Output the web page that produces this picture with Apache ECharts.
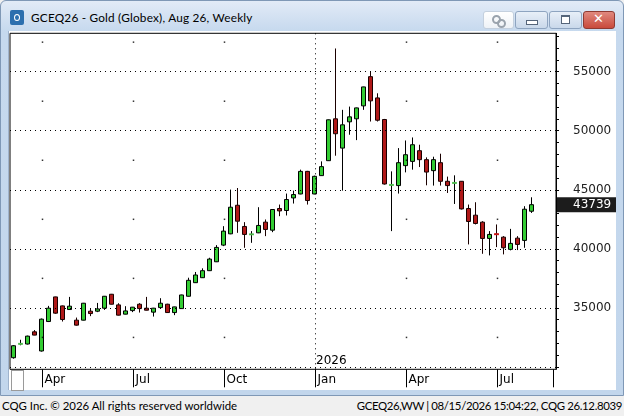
<!DOCTYPE html>
<html>
<head>
<meta charset="utf-8">
<script src="https://cdn.jsdelivr.net/npm/echarts@6/dist/echarts.min.js"></script>
<style>
    html, body { margin: 0; padding: 0; width: 624px; height: 416px; overflow: hidden; background: #f0f0f0; }
    #win { position: absolute; left: 0; top: 0; width: 622px; height: 394px; border: 1px solid #7f98b6; border-radius: 6px 6px 0 0;
        background: linear-gradient(#e2ebf7 0px, #d3e1f2 16px, #c6d9ee 30px, #c2d6ec 100%); }
    #icon { position: absolute; left: 9px; top: 9px; width: 14px; height: 15px; background: #2c6fae; border-radius: 2px; }
    #icon:after { content: ""; position: absolute; left: 4px; top: 4px; width: 4px; height: 5px; border: 1.5px solid #fff; border-radius: 50%; }
    #title { position: absolute; left: 30px; top: 9px; font: 11.8px Lato, sans-serif; letter-spacing: 0.2px; color: #000; white-space: nowrap; }
    .btn { position: absolute; top: 10px; height: 16px; border: 1px solid #8ea4c0; border-radius: 3px;
        background: linear-gradient(#e8eff8, #c9d8ea); }
    #b0 { left: 482px; width: 29px; background: linear-gradient(#ffffff, #eef2f7); border-color: #c4d0de; }
    #b1 { left: 514px; width: 31px; }
    #b2 { left: 548px; width: 31px; }
    #b3 { left: 582px; width: 30px; background: linear-gradient(#e0897f, #c94a3c); border-color: #8f3a32; }
    #b1:after { content: ""; position: absolute; left: 10px; top: 8px; width: 10px; height: 3px; border: 1px solid #55657a; background: #fff; }
    #b2:after { content: ""; position: absolute; left: 11px; top: 3px; width: 7px; height: 6px; border: 1px solid #55657a; border-top-width: 2px; background: #fff; }
    #b3:after { content: "\2715"; position: absolute; left: 9px; top: -1px; font: bold 13px "DejaVu Sans", sans-serif; color: #fff; }
    #b0:before { content: ""; position: absolute; left: 8px; top: 3px; width: 5px; height: 5px; border: 2px solid #9aa3ad; border-radius: 50%; }
    #b0:after { content: ""; position: absolute; left: 13px; top: 7px; width: 5px; height: 5px; border: 2px solid #9aa3ad; border-radius: 50%; }
    #pane { position: absolute; left: 8px; top: 31px; width: 607px; height: 359px; background: #fff; border-left: 1px solid #9fb3cc; }
    #corner { position: absolute; left: 11px; top: 370px; width: 11px; height: 19px; border: 1px solid #9a9a9a; background: #fff; }
    #foot1, #foot2 { position: absolute; top: 399px; font: 11.4px Lato, sans-serif; color: #000; white-space: nowrap; }
    #foot1 { left: 2px; }
    #foot2 { right: 2px; letter-spacing: -0.35px; }
</style>
</head>
<body>
<div id="win">
    <div id="icon"></div>
    <div id="title">GCEQ26 - Gold (Globex), Aug 26, Weekly</div>
    <div class="btn" id="b0"></div>
    <div class="btn" id="b1"></div>
    <div class="btn" id="b2"></div>
    <div class="btn" id="b3"></div>
</div>
<div id="pane"></div>
<div id="corner"></div>
<div id="foot1">CQG Inc. © 2026 All rights reserved worldwide</div>
<div id="foot2">GCEQ26,WW | 08/15/2026 15:04:22, CQG 26.12.8039</div>

<script>
// weekly bars (Monday dates), last three are empty space to the right
const weeks = [
    '2025-03-03', '2025-03-10', '2025-03-17', '2025-03-24', '2025-03-31',
    '2025-04-07', '2025-04-14', '2025-04-21', '2025-04-28',
    '2025-05-05', '2025-05-12', '2025-05-19', '2025-05-26',
    '2025-06-02', '2025-06-09', '2025-06-16', '2025-06-23', '2025-06-30',
    '2025-07-07', '2025-07-14', '2025-07-21', '2025-07-28',
    '2025-08-04', '2025-08-11', '2025-08-18', '2025-08-25',
    '2025-09-01', '2025-09-08', '2025-09-15', '2025-09-22', '2025-09-29',
    '2025-10-06', '2025-10-13', '2025-10-20', '2025-10-27',
    '2025-11-03', '2025-11-10', '2025-11-17', '2025-11-24',
    '2025-12-01', '2025-12-08', '2025-12-15', '2025-12-22', '2025-12-29',
    '2026-01-05', '2026-01-12', '2026-01-19', '2026-01-26',
    '2026-02-02', '2026-02-09', '2026-02-16', '2026-02-23',
    '2026-03-02', '2026-03-09', '2026-03-16', '2026-03-23', '2026-03-30',
    '2026-04-06', '2026-04-13', '2026-04-20', '2026-04-27',
    '2026-05-04', '2026-05-11', '2026-05-18', '2026-05-25',
    '2026-06-01', '2026-06-08', '2026-06-15', '2026-06-22', '2026-06-29',
    '2026-07-06', '2026-07-13', '2026-07-20', '2026-07-27',
    '2026-08-03',
    '2026-08-10', '2026-08-17', '2026-08-24'
];

const openP = [
    30780, 31950, 31940, 32975, 31350, 33845, 35930, 35170, 34860, 33960,
    33960, 34720, 34720, 34975, 36155, 35255, 34470, 34770, 35310, 34975,
    34640, 35025, 35310, 34605, 34940, 35985, 37135, 37555, 38150, 38905,
    40315, 41270, 43690, 41895, 41220, 41355, 42260, 41580, 43415, 43245,
    44310, 44645, 46560, 44645, 46200, 47465, 51010, 48530, 50755, 51010,
    52105, 54580, 52780, 50950, 45405, 45355, 47045, 47405, 48310, 47550,
    46620, 47295, 45720, 45575, 45720, 43415, 42850, 42260, 40880, 41260,
    40990, 39955, 40905, 40715, 43185
];
const closeP = [
    31795, 31960, 32610, 32695, 34045, 34975, 34555, 34015, 35145, 33540,
    35395, 34520, 34915, 35985, 35310, 34385, 34745, 35060, 34940, 34805,
    34975, 35395, 34605, 35085, 36095, 37335, 37785, 38150, 39135, 40120,
    41500, 43525, 42340, 41220, 41230, 41980, 41640, 43330, 43210, 44175,
    44595, 46560, 44090, 46140, 46960, 50925, 49745, 50500, 51175, 51935,
    53710, 52530, 50890, 45490, 45415, 47295, 47970, 48815, 47550, 46500,
    47550, 45720, 45355, 45585, 43380, 42315, 42150, 40880, 41220, 41220,
    40090, 40460, 40375, 43355, 43739
];
const lowP = [
    30700, 31835, 31900, 32680, 31300, 33800, 34500, 33845, 34830, 33500,
    33940, 34300, 34640, 34830, 35290, 34360, 34450, 34640, 34605, 34790,
    34265, 34915, 34580, 34385, 34920, 35960, 37110, 37530, 38120, 38880,
    40230, 41240, 41355, 40090, 40510, 41330, 41075, 41410, 42765, 42825,
    43835, 44620, 43750, 44620, 46180, 47440, 47885, 44930, 49660, 49205,
    51770, 50780, 50780, 45440, 41500, 44680, 46475, 46705, 46925, 45380,
    45355, 45355, 44730, 43800, 43330, 40375, 42065, 39580, 39445, 40145,
    39530, 39870, 39895, 40090, 43040
];
const highP = [
    31850, 32300, 32650, 33120, 34100, 35170, 35950, 35200, 35930, 34180,
    35420, 34915, 35420, 36010, 36180, 35395, 35145, 35080, 35400, 35930,
    35000, 35820, 35350, 35100, 36120, 37555, 38040, 38350, 39245, 40315,
    41920, 45015, 45150, 42260, 41500, 43525, 42485, 43360, 43750, 44680,
    44930, 46705, 46600, 46200, 47405, 50950, 56965, 51770, 52045, 51960,
    53730, 55055, 53170, 51000, 46560, 48530, 49175, 49430, 48815, 47745,
    47800, 48055, 46115, 46225, 45740, 43750, 43945, 42340, 41500, 42065,
    41075, 41690, 41075, 43610, 44365
];

const lastPrice = 43739;
const priceLabels = [35000, 40000, 45000, 50000, 55000];
const gridLevels = [30000, 35000, 40000, 45000, 50000, 55000];
const halfLevels = [32500, 37500, 42500, 47500, 52500, 57500];
const tickWeeks = ['2025-04-07', '2025-07-07', '2025-10-06', '2026-01-05', '2026-04-06', '2026-07-06'];
const tickLabels = ['Apr', 'Jul', 'Oct', 'Jan', 'Apr', 'Jul'];
const yearWeek = '2026-01-05';
const yearLabel = '2026';

const yMin = 29800;
const yMax = 58250;

const minorTicks = [];
for (let v = 30000; v <= 58000; v += 1000) minorTicks.push(v);

const candleData = openP.map((o, i) => [o, closeP[i], lowP[i], highP[i]]);

// CQG draws near-equal open/close bars as a light coloured dash
const dojiData = [];
openP.forEach((o, i) => {
    if (Math.abs(closeP[i] - o) < 60) {
        dojiData.push({
            value: [i, (o + closeP[i]) / 2],
            itemStyle: {color: closeP[i] >= o ? '#5ee05e' : '#f01c1c'}
        });
    }
});

// the sparse grid dots where quarter lines cross the half levels
const gridDots = [];
tickWeeks.forEach(w => {
    if (w === yearWeek) return;
    halfLevels.forEach(v => gridDots.push([w, v]));
});

const labelFont = '"DejaVu Sans", sans-serif';
const dotted = {color: '#000', width: 1, type: [1, 4]};
const clear = 'rgba(0,0,0,0)';

const chartDom = document.getElementById('pane');
const myChart = echarts.init(chartDom, null, {width: 607, height: 359});

const option = {
    animation: false,
    // grid 0: candles; grid 1: month separators (CQG puts them a little before the bar);
    // grid 2: same scale, shifted so band centres sit on the separators
    grid: [
        {left: 1, right: 60, top: 2.3, bottom: 20.7, outerBoundsMode: 'none',
            show: true, borderColor: '#000', borderWidth: 1},
        {left: -1.5, right: 62.5, top: 2.3, bottom: 20.7, outerBoundsMode: 'none', show: false},
        {left: -5, right: 66, top: 2.3, bottom: 20.7, outerBoundsMode: 'none', show: false}
    ],
    xAxis: [
        {
            gridIndex: 0,
            type: 'category',
            data: weeks,
            boundaryGap: true,
            axisLine: {show: false},
            axisTick: {show: false},
            axisLabel: {show: false},
            splitLine: {show: false}
        },
        {
            gridIndex: 1,
            type: 'category',
            data: weeks,
            boundaryGap: true,
            axisLine: {show: false},
            axisTick: {
                show: true,
                length: 18,
                interval: (idx, val) => tickWeeks.indexOf(val) >= 0,
                lineStyle: {color: '#000', width: 1}
            },
            axisLabel: {show: false},
            splitLine: {show: false}
        },
        {
            gridIndex: 2,
            type: 'category',
            data: weeks,
            boundaryGap: true,
            axisLine: {show: false},
            axisTick: {show: false},
            axisLabel: {
                show: true,
                interval: (idx, val) => tickWeeks.indexOf(val) >= 0,
                formatter: (val) => tickLabels[tickWeeks.indexOf(val)],
                align: 'left',
                padding: [0, 0, 0, 2],
                margin: 5,
                color: '#000',
                fontFamily: labelFont,
                fontSize: 12
            },
            splitLine: {show: false}
        }
    ],
    yAxis: [
        {
            gridIndex: 0,
            type: 'value',
            position: 'right',
            min: yMin,
            max: yMax,
            axisLine: {show: true, lineStyle: {color: '#000'}},
            axisTick: {show: true, length: 3, customValues: minorTicks, lineStyle: {color: '#000'}},
            axisLabel: {
                show: true,
                customValues: priceLabels,
                formatter: (v) => String(v),
                margin: 17,
                color: '#222',
                fontFamily: labelFont,
                fontSize: 12
            },
            splitLine: {show: false}
        },
        {gridIndex: 1, type: 'value', min: 0, max: 1, show: false},
        {gridIndex: 2, type: 'value', min: yMin, max: yMax, show: false}
    ],
    series: [
        {
            type: 'candlestick',
            xAxisIndex: 0,
            yAxisIndex: 0,
            barWidth: 5,
            data: candleData,
            itemStyle: {
                color: '#33cc33',
                color0: '#b01818',
                borderColor: '#000',
                borderColor0: '#1a0000',
                borderWidth: 1
            },
            markLine: {
                silent: true,
                symbol: ['none', 'none'],
                data: gridLevels.map(v => ({
                    yAxis: v,
                    lineStyle: dotted,
                    label: {show: false}
                })).concat([{
                    yAxis: lastPrice,
                    lineStyle: {color: clear, width: 1, type: 'solid'},
                    label: {
                        show: true,
                        position: 'end',
                        distance: 1,
                        formatter: String(lastPrice),
                        backgroundColor: '#1c1c1c',
                        color: '#fff',
                        padding: [2, 5, 1, 16],
                        fontFamily: labelFont,
                        fontSize: 12
                    }
                }])
            },
            markPoint: {
                silent: true,
                symbol: 'rect',
                symbolSize: 1,
                itemStyle: {color: clear},
                data: [{
                    coord: [yearWeek, yMin],
                    label: {
                        show: true,
                        formatter: yearLabel,
                        position: [-5, -14],
                        align: 'left',
                        verticalAlign: 'top',
                        color: '#000',
                        fontFamily: labelFont,
                        fontSize: 12
                    }
                }]
            }
        },
        {
            type: 'scatter',
            xAxisIndex: 0,
            yAxisIndex: 0,
            symbol: 'rect',
            symbolSize: [5, 2],
            z: 5,
            silent: true,
            data: dojiData
        },
        {
            type: 'scatter',
            xAxisIndex: 2,
            yAxisIndex: 2,
            symbol: 'rect',
            symbolSize: 1.5,
            silent: true,
            itemStyle: {color: '#000'},
            data: gridDots,
            markLine: {
                silent: true,
                symbol: ['none', 'none'],
                label: {show: false},
                lineStyle: dotted,
                data: [{xAxis: yearWeek}]
            }
        }
    ]
};

myChart.setOption(option);
</script>
</body>
</html>
